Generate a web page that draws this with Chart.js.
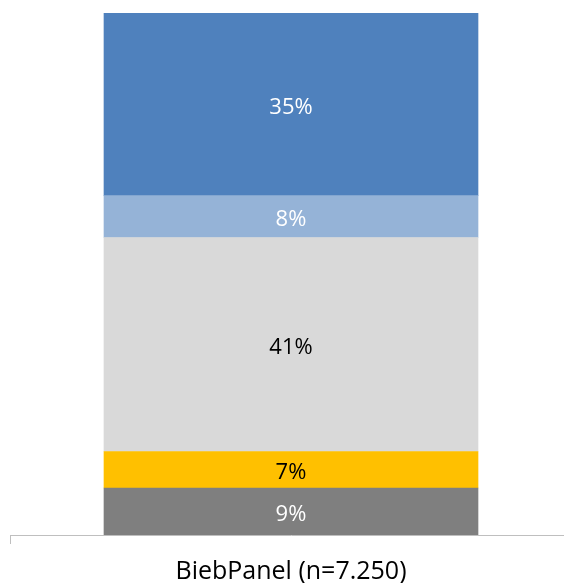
<!DOCTYPE html>
<html lang="nl">

<head>
    <meta charset="UTF-8">
    <title>BiebPanel</title>
    <script src="https://cdn.jsdelivr.net/npm/chart.js"></script>
    <style>
        body {
            margin: 0;
            padding: 0;
            background: #ffffff;
            overflow: hidden;
        }

        .chart-container {
            position: relative;
            width: 572px;
            height: 586px;
        }
    </style>
</head>

<body>
    <div class="chart-container">
        <canvas id="panelChart"></canvas>
    </div>

    <script>
        // Stacked shares, bottom segment first
        const categories = ['BiebPanel (n=7.250)'];
        const segmentNames = ['9%', '7%', '41%', '8%', '35%'];
        const segmentValues = [9, 7, 41, 8, 35];
        const segmentColors = ['#7f7f7f', '#ffc000', '#d9d9d9', '#95b3d7', '#4f81bd'];
        const labelColors = ['#ffffff', '#000000', '#000000', '#ffffff', '#ffffff'];

        // Writes the percentage in the middle of each segment
        const segmentLabels = {
            id: 'segmentLabels',
            afterDatasetsDraw(chart) {
                const ctx = chart.ctx;
                ctx.save();
                ctx.font = '22px "Open Sans", sans-serif';
                ctx.textAlign = 'center';
                ctx.textBaseline = 'middle';
                chart.data.datasets.forEach((ds, i) => {
                    chart.getDatasetMeta(i).data.forEach((bar, j) => {
                        const { x, y, base } = bar.getProps(['x', 'y', 'base'], true);
                        ctx.fillStyle = labelColors[i];
                        ctx.fillText(ds.data[j] + '%', x, (y + base) / 2 + 3);
                    });
                });
                ctx.restore();
            }
        };

        const ctx = document.getElementById('panelChart').getContext('2d');
        new Chart(ctx, {
            type: 'bar',
            data: {
                labels: categories,
                datasets: segmentValues.map((v, i) => ({
                    label: segmentNames[i],
                    data: [v],
                    backgroundColor: segmentColors[i],
                    borderWidth: 0,
                    barThickness: 374
                }))
            },
            options: {
                responsive: true,
                maintainAspectRatio: false,
                animation: false,
                layout: { padding: { top: 13, left: 10, right: 0, bottom: 3 } },
                plugins: {
                    legend: { display: false },
                    tooltip: { enabled: false }
                },
                scales: {
                    x: {
                        stacked: true,
                        afterFit(scale) { scale.height = 48; },
                        border: { display: true, color: '#bfbfbf', width: 1 },
                        grid: {
                            drawOnChartArea: false,
                            drawTicks: true,
                            tickLength: 9,
                            color: '#bfbfbf'
                        },
                        ticks: {
                            color: '#000000',
                            padding: 13,
                            font: { family: '"Open Sans", sans-serif', size: 25 }
                        }
                    },
                    y: {
                        stacked: true,
                        display: false,
                        min: 0,
                        max: 100
                    }
                }
            },
            plugins: [segmentLabels]
        });
    </script>
</body>

</html>
